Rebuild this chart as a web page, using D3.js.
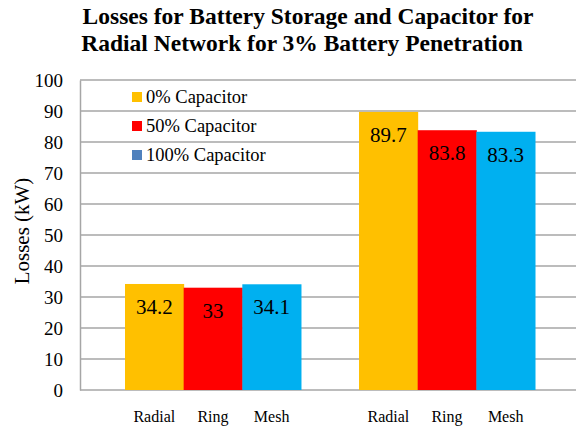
<!DOCTYPE html>
<html>
<head>
<meta charset="utf-8">
<script src="https://cdn.jsdelivr.net/npm/d3@7"></script>
<style>
  body { margin: 0; background: #fff; }
  svg text { font-family: "Liberation Serif", "Times New Roman", serif !important; }
</style>
</head>
<body>
<svg id="chart" width="576" height="430"></svg>
<script>
// data
var groups = ["Radial Network", "Other"];
var networks = ["Radial", "Ring", "Mesh"];
var group1Values = [34.2, 33, 34.1];
var group2Values = [89.7, 83.8, 83.3];
var legendLabels = ["0% Capacitor", "50% Capacitor", "100% Capacitor"];
var barColors = ["#FFC000", "#FF0000", "#00B0F0"];
var legendColors = ["#FFC000", "#FF0000", "#4F81BD"];
var yTicks = [0, 10, 20, 30, 40, 50, 60, 70, 80, 90, 100];

var allValues = [group1Values, group2Values];
var serif = "'Liberation Serif', 'Times New Roman', serif";

var svg = d3.select("#chart");
var plotLeft = 80, plotRight = 576, plotTop = 80, plotBottom = 390;

var y = d3.scaleLinear().domain([0, 100]).range([plotBottom, plotTop]);

var x0 = d3.scaleBand().domain(groups).range([125, 535])
    .paddingInner(0.248).paddingOuter(0);
var x1 = d3.scaleBand().domain(networks).range([0, x0.bandwidth()]).padding(0);

// gridlines
svg.append("g").selectAll("line").data(yTicks).enter().append("line")
    .attr("x1", plotLeft).attr("x2", plotRight)
    .attr("y1", function(d) { return y(d); })
    .attr("y2", function(d) { return y(d); })
    .attr("stroke", "#a6a6a6").attr("stroke-width", 1.5);

// y axis
var yAxis = d3.axisLeft(y).tickValues(yTicks).tickSize(0).tickPadding(17);
var gy = svg.append("g").attr("transform", "translate(" + plotLeft + ",0)").call(yAxis);
gy.attr("font-family", serif);
gy.select(".domain").attr("stroke", "#a6a6a6").attr("stroke-width", 1.5);
gy.selectAll("text").style("font-size", "19px").attr("fill", "#000")
    .style("font-family", serif);

// bars
groups.forEach(function(g, gi) {
    var gg = svg.append("g").attr("transform", "translate(" + x0(g) + ",0)");
    var rows = networks.map(function(n, i) { return { name: n, value: allValues[gi][i], color: barColors[i] }; });
    gg.selectAll("rect").data(rows).enter().append("rect")
        .attr("x", function(d) { return x1(d.name); })
        .attr("y", function(d) { return y(d.value); })
        .attr("width", x1.bandwidth() + 0.5)
        .attr("height", function(d) { return y(0) - y(d.value); })
        .attr("fill", function(d) { return d.color; });
    gg.selectAll("text.val").data(rows).enter().append("text")
        .attr("class", "val")
        .attr("x", function(d) { return x1(d.name) + x1.bandwidth() / 2; })
        .attr("y", function(d) { return y(d.value) + 30; })
        .attr("text-anchor", "middle")
        .style("font-family", serif)
        .style("font-size", "21px")
        .text(function(d) { return d.value; });
    gg.selectAll("text.cat").data(rows).enter().append("text")
        .attr("class", "cat")
        .attr("x", function(d) { return x1(d.name) + x1.bandwidth() / 2; })
        .attr("y", 422)
        .attr("text-anchor", "middle")
        .style("font-family", serif)
        .style("font-size", "16px")
        .text(function(d) { return d.name; });
});

// y title
svg.append("text")
    .attr("transform", "translate(29,231) rotate(-90)")
    .attr("text-anchor", "middle")
    .style("font-family", serif)
    .style("font-size", "21px")
    .text("Losses (kW)");

// title
var title = svg.append("text").attr("text-anchor", "middle")
    .style("font-family", serif)
    .style("font-size", "23.5px").style("font-weight", "bold");
title.append("tspan").attr("x", 308).attr("y", 24).text("Losses for Battery Storage and Capacitor for");
title.append("tspan").attr("x", 302).attr("y", 51).text("Radial Network for 3% Battery Penetration");

// legend
var legend = svg.append("g").selectAll("g").data(legendLabels).enter().append("g")
    .attr("transform", function(d, i) { return "translate(132," + (97 + i * 29) + ")"; });
legend.append("rect").attr("x", 0).attr("y", -5).attr("width", 10).attr("height", 10)
    .attr("fill", function(d, i) { return legendColors[i]; });
legend.append("text").attr("x", 14).attr("y", 6)
    .style("font-family", serif)
    .style("font-size", "18.5px")
    .text(function(d) { return d; });
</script>
</body>
</html>
